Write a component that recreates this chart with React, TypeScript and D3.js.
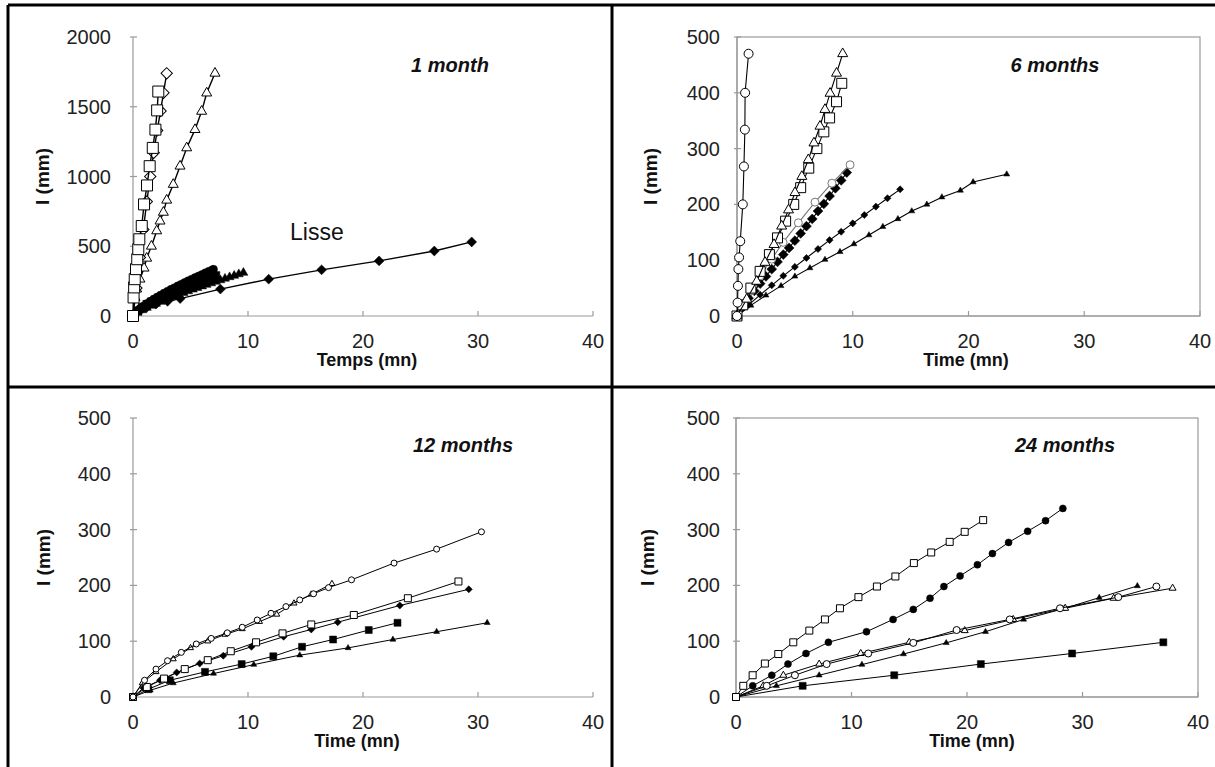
import React, { useEffect, useRef } from "react";
import * as d3 from "d3";

type Pt = [number, number];

// ---- 1 month (t in mn, I in mm)
const m1OpenDiamonds: Pt[] = [[0, 0], [0.3, 200], [0.6, 420], [0.9, 620], [1.2, 820], [1.5, 1000], [1.8, 1170], [2.1, 1330], [2.4, 1470], [2.65, 1600], [2.93, 1740]];
const m1OpenSquares: Pt[] = [[0, 0], [0.05, 133], [0.1, 205], [0.15, 264], [0.26, 336], [0.37, 407], [0.46, 479], [0.55, 550], [0.76, 645], [0.96, 800], [1.22, 936], [1.45, 1074], [1.72, 1205], [1.95, 1336], [2.1, 1474], [2.2, 1609]];
const m1OpenTriangles: Pt[] = [[0, 0], [0.17, 133], [0.32, 193], [0.6, 264], [0.96, 343], [1.19, 414], [1.6, 500], [2.06, 610], [2.35, 680], [2.64, 743], [2.93, 830], [3.5, 943], [4.09, 1074], [4.67, 1205], [5.39, 1336], [5.97, 1467], [6.41, 1598], [7.13, 1740]];
const m1FilledCircles: Pt[] = [[0, 0], [0.3, 32], [0.6, 53], [0.9, 72], [1.2, 89], [1.5, 106], [1.8, 121], [2.1, 136], [2.4, 150], [2.7, 164], [3.0, 178], [3.3, 191], [3.6, 203], [3.9, 216], [4.2, 228], [4.5, 241], [4.8, 253], [5.1, 264], [5.4, 276], [5.7, 287], [6.0, 298], [6.3, 310], [6.6, 321], [6.9, 331], [7.0, 335]];
const m1FilledSquares: Pt[] = [[0, 0], [0.4, 38], [0.8, 62], [1.2, 83], [1.6, 101], [2.0, 118], [2.4, 134], [2.8, 150], [3.2, 164], [3.6, 179], [4.0, 192], [4.4, 206], [4.8, 218], [5.2, 231], [5.6, 243], [6.0, 255], [6.4, 267], [6.8, 279], [7.2, 290]];
const m1FilledTriangles: Pt[] = [[0, 0], [0.4, 24], [0.8, 42], [1.2, 59], [1.6, 74], [2.0, 88], [2.4, 102], [2.8, 116], [3.2, 129], [3.6, 141], [4.0, 154], [4.4, 166], [4.8, 178], [5.2, 190], [5.6, 201], [6.0, 213], [6.4, 224], [6.8, 235], [7.2, 246], [7.6, 257], [8.0, 268], [8.4, 279], [8.8, 289], [9.2, 300], [9.6, 310]];
const m1Lisse: Pt[] = [[0, 0], [0.3, 25], [0.7, 45], [1.2, 62], [2, 85], [3, 105], [4.1, 125], [7.6, 193], [11.8, 264], [16.4, 331], [21.4, 395], [26.2, 466], [29.45, 531]];

// ---- 6 months
const m6OpenCircles: Pt[] = [[0, 0], [0.05, 24], [0.08, 54], [0.12, 84], [0.18, 105], [0.28, 134], [0.5, 200], [0.6, 268], [0.68, 334], [0.7, 400], [1.0, 470]];
const m6OpenTriangles: Pt[] = [[0, 0], [0.84, 30], [1.7, 62], [2.42, 96], [3.2, 128], [3.86, 161], [4.45, 190], [5.01, 221], [5.6, 250], [6.16, 280], [6.65, 310], [7.17, 340], [7.6, 370], [8.04, 399], [8.6, 435], [9.13, 470]];
const m6OpenSquares: Pt[] = [[0, 0], [0.5, 20], [1.2, 50], [2.0, 80], [2.8, 110], [3.5, 140], [4.2, 170], [4.9, 200], [5.5, 230], [6.2, 265], [6.9, 300], [7.5, 330], [8.0, 355], [8.6, 384], [9.05, 417]];
const m6OpenRound: Pt[] = [[0, 0], [0.5, 20], [1.2, 45], [2, 72], [3, 102], [3.98, 132], [5.3, 167], [6.74, 204], [8.2, 238], [9.77, 271]];
const m6FilledDiamonds: Pt[] = [[0, 0], [0.5, 18], [1, 32], [1.5, 45], [2, 58], [2.5, 71], [3, 84], [3.5, 97], [4, 110], [4.5, 122], [5, 135], [5.5, 148], [6, 161], [6.5, 174], [7, 188], [7.5, 201], [8, 215], [8.5, 229], [9, 243], [9.48, 257]];
const m6FilledDots: Pt[] = [[0, 0], [1, 20], [2, 38], [3, 55], [4, 72], [5, 88], [6, 104], [7, 120], [8, 136], [9, 151], [10, 166], [11, 181], [12, 196], [13, 211], [14.09, 227]];
const m6FilledTriangles: Pt[] = [[0, 0], [1.2, 19], [2.5, 37], [3.8, 54], [5.0, 71], [6.3, 86], [7.6, 101], [8.9, 115], [10.1, 129], [11.4, 145], [12.6, 160], [13.9, 174], [15.1, 188], [16.4, 200], [17.7, 213], [19.3, 225], [20.4, 240], [23.3, 254]];

// ---- 12 months
const m12OpenCircles: Pt[] = [[0, 0], [1, 30], [2, 50], [3, 65], [4.2, 80], [5.5, 95], [6.8, 105], [8.2, 115], [9.5, 125], [10.8, 138], [12, 150], [13.3, 162], [14.5, 174], [15.7, 185], [17, 196], [19, 210], [22.7, 240], [26.4, 265], [30.3, 296]];
const m12OpenTriangles: Pt[] = [[0, 0], [0.8, 25], [2, 45], [3.5, 68], [5, 88], [6.5, 100], [8, 112], [9.5, 122], [11, 135], [12.5, 148], [14, 168], [15.5, 184], [17.3, 203]];
const m12OpenSquares: Pt[] = [[0, 0], [1.2, 18], [2.7, 33], [4.5, 50], [6.5, 66], [8.5, 82], [10.7, 98], [13, 114], [15.5, 130], [19.2, 147], [23.9, 177], [28.3, 207]];
const m12FilledDiamonds: Pt[] = [[0, 0], [0.9, 16], [2.35, 30], [3.8, 44], [5.8, 60], [7.85, 74], [10.3, 90], [13.1, 108], [15.5, 121], [17.8, 134], [23.2, 164], [29.2, 193]];
const m12FilledSquares: Pt[] = [[0, 0], [1.33, 14], [3.2, 30], [6.26, 45], [9.45, 59], [12.2, 73], [14.7, 90], [17.4, 103], [20.5, 120], [23, 133]];
const m12FilledTriangles: Pt[] = [[0, 0], [1.5, 12], [3.5, 25], [7, 42], [10.5, 58], [14.5, 75], [18.7, 88], [22.6, 103], [26.4, 117], [30.8, 133]];

// ---- 24 months
const m24OpenSquares: Pt[] = [[0, 0], [0.63, 20], [1.44, 39], [2.5, 60], [3.66, 77], [4.96, 98], [6.35, 119], [7.7, 139], [9.0, 159], [10.6, 179], [12.2, 198], [13.8, 216], [15.4, 240], [16.9, 259], [18.5, 278], [19.8, 296], [21.4, 317]];
const m24FilledCircles: Pt[] = [[0, 0], [1.45, 20], [3.1, 39], [4.5, 59], [6.06, 78], [8.0, 98], [11.3, 117], [13.6, 139], [15.35, 157], [16.8, 177], [18.0, 198], [19.4, 217], [20.9, 237], [22.2, 257], [23.6, 277], [25.25, 297], [26.8, 316], [28.3, 338]];
const m24OpenCircles: Pt[] = [[0, 0], [2.66, 20], [5.1, 39], [7.85, 59], [11.45, 78], [15.35, 97], [19.1, 120], [23.7, 139], [28.05, 159], [33.1, 179], [36.4, 198]];
const m24OpenTriangles: Pt[] = [[0, 0], [2.36, 20], [4.1, 39], [7.2, 59], [10.8, 78], [15.0, 98], [19.8, 119], [24.0, 139], [28.5, 159], [32.7, 177], [37.8, 195]];
const m24FilledTriangles: Pt[] = [[0, 0], [3.5, 20], [7.2, 39], [10.9, 58], [14.5, 77], [18.2, 97], [21.6, 117], [24.9, 139], [28.3, 158], [31.45, 178], [34.75, 199]];
const m24FilledSquares: Pt[] = [[0, 0], [5.77, 20], [13.7, 39], [21.2, 59], [29.1, 78], [37.0, 98]];

const xTicks = [0, 10, 20, 30, 40];
const yTicksBig = [0, 500, 1000, 1500, 2000];
const yTicksSmall = [0, 100, 200, 300, 400, 500];

type Shape = "square" | "triangle" | "diamond" | "circle";
type Series = { data: Pt[]; shape: Shape; size: number; open: boolean; gray?: boolean };

const panels = [
  {
    left: 133, right: 593, top: 37, bottom: 316, yMax: 2000, yTicks: yTicksBig, box: false, labelGap: 22, yTitleX: 42,
    title: "1 month", titleX: 450, titleY: 72, xTitle: "Temps (mn)", xTitleX: 367, lw: 1.4,
    series: [
      { data: m1FilledTriangles, shape: "triangle", size: 9, open: false },
      { data: m1FilledSquares, shape: "square", size: 8, open: false },
      { data: m1FilledCircles, shape: "circle", size: 8, open: false },
      { data: m1Lisse, shape: "diamond", size: 7, open: false },
      { data: m1OpenTriangles, shape: "triangle", size: 10, open: true },
      { data: m1OpenDiamonds, shape: "diamond", size: 8, open: true },
      { data: m1OpenSquares, shape: "square", size: 11, open: true },
    ] as Series[],
  },
  {
    left: 737, right: 1200, top: 37, bottom: 316, yMax: 500, yTicks: yTicksSmall, box: true, labelGap: 17, yTitleX: 650,
    title: "6 months", titleX: 1055, titleY: 72, xTitle: "Time (mn)", xTitleX: 966, lw: 1.1,
    series: [
      { data: m6FilledTriangles, shape: "triangle", size: 6, open: false },
      { data: m6FilledDots, shape: "diamond", size: 5, open: false },
      { data: m6FilledDiamonds, shape: "diamond", size: 7, open: false },
      { data: m6OpenRound, shape: "circle", size: 8, open: true, gray: true },
      { data: m6OpenSquares, shape: "square", size: 10, open: true },
      { data: m6OpenTriangles, shape: "triangle", size: 10, open: true },
      { data: m6OpenCircles, shape: "circle", size: 9, open: true },
    ] as Series[],
  },
  {
    left: 133, right: 593, top: 418, bottom: 697, yMax: 500, yTicks: yTicksSmall, box: false, labelGap: 22, yTitleX: 43,
    title: "12 months", titleX: 463, titleY: 452, xTitle: "Time (mn)", xTitleX: 357, lw: 1,
    series: [
      { data: m12FilledTriangles, shape: "triangle", size: 6, open: false },
      { data: m12FilledSquares, shape: "square", size: 7, open: false },
      { data: m12FilledDiamonds, shape: "diamond", size: 5, open: false },
      { data: m12OpenSquares, shape: "square", size: 7, open: true },
      { data: m12OpenTriangles, shape: "triangle", size: 6, open: true },
      { data: m12OpenCircles, shape: "circle", size: 6, open: true },
    ] as Series[],
  },
  {
    left: 736, right: 1198, top: 418, bottom: 697, yMax: 500, yTicks: yTicksSmall, box: true, labelGap: 16, yTitleX: 647,
    title: "24 months", titleX: 1065, titleY: 452, xTitle: "Time (mn)", xTitleX: 972, lw: 1,
    series: [
      { data: m24FilledSquares, shape: "square", size: 7, open: false },
      { data: m24FilledTriangles, shape: "triangle", size: 6, open: false },
      { data: m24OpenTriangles, shape: "triangle", size: 7, open: true },
      { data: m24OpenCircles, shape: "circle", size: 7, open: true },
      { data: m24FilledCircles, shape: "circle", size: 7, open: false },
      { data: m24OpenSquares, shape: "square", size: 7, open: true },
    ] as Series[],
  },
];

const FONT = "'Liberation Sans', Arial, sans-serif";
const AXIS = "#9a9a9a";

function symbolPath(shape: Shape, s: number) {
  if (shape === "circle") return d3.symbol().type(d3.symbolCircle).size(Math.PI * s * s / 4)()!;
  if (shape === "triangle") return d3.symbol().type(d3.symbolTriangle).size(Math.sqrt(3) / 4 * s * s)()!;
  return d3.symbol().type(d3.symbolSquare).size(s * s)()!;
}

const App = () => {
  const ref = useRef<SVGSVGElement>(null);

  useEffect(() => {
    const svg = d3.select(ref.current);
    svg.selectAll("*").remove();
    svg.append("rect").attr("width", 1215).attr("height", 767).attr("fill", "#fff");

    panels.forEach((p) => {
      const x = d3.scaleLinear().domain([0, 40]).range([p.left, p.right]);
      const y = d3.scaleLinear().domain([0, p.yMax]).range([p.bottom, p.top]);
      const g = svg.append("g");

      if (p.box) {
        g.append("rect").attr("x", p.left).attr("y", p.top)
          .attr("width", p.right - p.left).attr("height", p.bottom - p.top)
          .attr("fill", "none").attr("stroke", AXIS).attr("stroke-width", 1.2);
      }
      // axis lines
      g.append("line").attr("x1", p.left).attr("x2", p.left).attr("y1", p.top).attr("y2", p.bottom)
        .attr("stroke", AXIS).attr("stroke-width", 1.2);
      g.append("line").attr("x1", p.left).attr("x2", p.right).attr("y1", p.bottom).attr("y2", p.bottom)
        .attr("stroke", AXIS).attr("stroke-width", 1.2);

      // y ticks
      p.yTicks.forEach((v) => {
        g.append("line").attr("x1", p.left - 3).attr("x2", p.left + 4).attr("y1", y(v)).attr("y2", y(v))
          .attr("stroke", AXIS).attr("stroke-width", 1.2);
        g.append("text").attr("x", p.left - p.labelGap).attr("y", y(v) + 7)
          .attr("text-anchor", "end").attr("font-family", FONT).attr("font-size", 20).attr("fill", "#222")
          .text(v);
      });
      // x ticks
      xTicks.forEach((v) => {
        g.append("line").attr("x1", x(v)).attr("x2", x(v)).attr("y1", p.bottom - 5).attr("y2", p.bottom)
          .attr("stroke", AXIS).attr("stroke-width", 1.2);
        g.append("text").attr("x", x(v)).attr("y", p.bottom + 32)
          .attr("text-anchor", "middle").attr("font-family", FONT).attr("font-size", 20).attr("fill", "#222")
          .text(v);
      });

      g.append("text").attr("x", p.xTitleX).attr("y", p.bottom + 50)
        .attr("text-anchor", "middle").attr("font-family", FONT).attr("font-size", 18)
        .attr("font-weight", "bold").attr("fill", "#111").text(p.xTitle);

      g.append("text").attr("transform", `translate(${p.yTitleX + 7},${(p.top + p.bottom) / 2}) rotate(-90)`)
        .attr("text-anchor", "middle").attr("font-family", FONT).attr("font-size", 19)
        .attr("font-weight", "bold").attr("fill", "#111").text("I (mm)");

      g.append("text").attr("x", p.titleX).attr("y", p.titleY)
        .attr("text-anchor", "middle").attr("font-family", FONT).attr("font-size", 20)
        .attr("font-weight", "bold").attr("font-style", "italic").attr("fill", "#111").text(p.title);

      const line = d3.line<Pt>().x((d) => x(d[0])).y((d) => y(d[1]));

      p.series.forEach((s) => {
        const stroke = s.gray ? "#777" : "#000";
        g.append("path").attr("d", line(s.data)).attr("fill", "none")
          .attr("stroke", stroke).attr("stroke-width", p.lw);
        g.selectAll(null).data(s.data).enter().append("path")
          .attr("d", symbolPath(s.shape, s.size))
          .attr("transform", (d) => `translate(${x(d[0])},${y(d[1])})${s.shape === "diamond" ? " rotate(45)" : ""}`)
          .attr("fill", s.open ? "#fff" : "#000")
          .attr("stroke", stroke).attr("stroke-width", s.open ? 1 : 0.5);
      });
    });

    // "Lisse" label on the 1 month panel
    svg.append("text").attr("x", 290).attr("y", 240).attr("font-family", FONT).attr("font-size", 23)
      .attr("fill", "#111").text("Lisse");

    // frame lines between panels
    const frame = [
      [8, 5, 8, 767], [8, 5, 1215, 5], [612, 5, 612, 767], [8, 387, 1215, 387],
    ];
    frame.forEach(([x1, y1, x2, y2]) => {
      svg.append("line").attr("x1", x1).attr("y1", y1).attr("x2", x2).attr("y2", y2)
        .attr("stroke", "#000").attr("stroke-width", 3);
    });
  }, []);

  return (
    <svg ref={ref} width={1215} height={767}
      style={{ position: "absolute", left: 0, top: 0, display: "block" }} />
  );
};

export default App;
